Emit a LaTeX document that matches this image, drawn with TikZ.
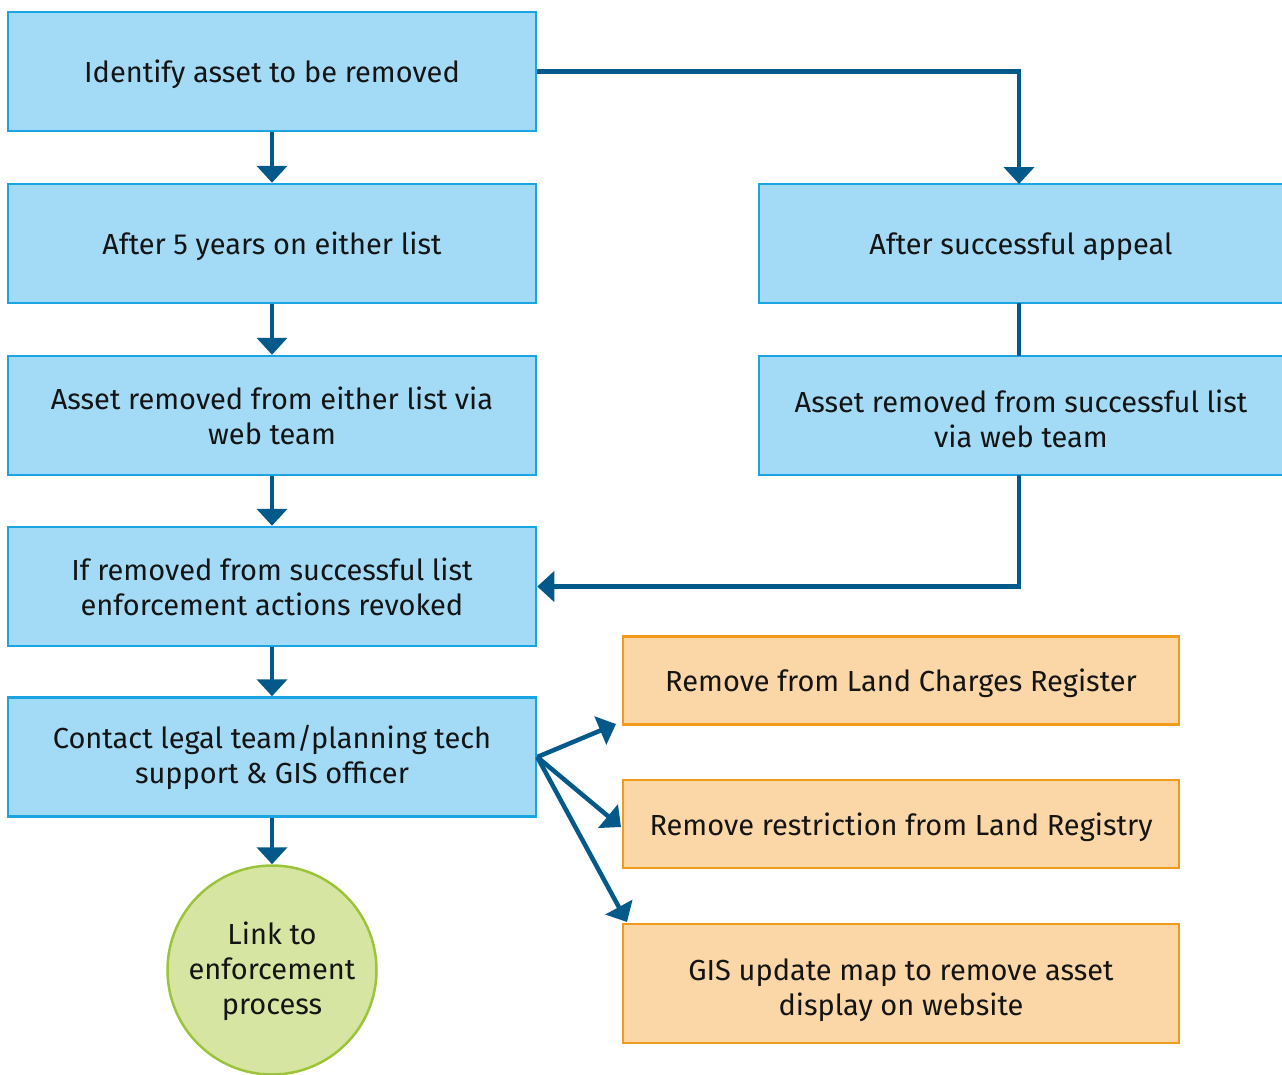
\documentclass[tikz,border=0pt]{standalone}
\usepackage{fontspec}
\setmainfont{Fira Sans}
\usetikzlibrary{arrows.meta}
\definecolor{boxfill}{HTML}{A3DAF6}
\definecolor{boxline}{HTML}{1BA4E2}
\definecolor{orfill}{HTML}{FBD6A6}
\definecolor{orline}{HTML}{F29A1C}
\definecolor{grfill}{HTML}{D6E6A2}
\definecolor{grline}{HTML}{9CC43A}
\definecolor{flow}{HTML}{02598A}
\definecolor{ink}{HTML}{141414}
\begin{document}
\begin{tikzpicture}[x=1pt,y=-1pt,
  every node/.style={font=\fontsize{29}{35}\selectfont, text=ink, align=center, inner sep=0pt},
  bluebox/.style={draw=boxline, fill=boxfill, line width=2.5pt, minimum width=528pt, minimum height=119pt},
  orbox/.style={draw=orline, fill=orfill, line width=2.5pt, minimum width=556pt},
  greenball/.style={circle, draw=grline, fill=grfill, line width=2.5pt, minimum size=209pt},
  oneline/.style={text depth=-1pt},
  conn/.style={draw=flow, line width=4.5pt},
  arr/.style={conn, -{Triangle[width=30pt,length=17pt]}}]
\useasboundingbox (0,0) rectangle (1282,1074);
\clip (0,0) rectangle (1282,1074);
% left column
\node[bluebox, oneline] (identify) at (272,71.5) {Identify asset to be removed};
\node[bluebox, oneline] (fiveyears) at (272,243.5) {After 5 years on either list};
\node[bluebox] (removed) at (272,415.5) {Asset removed from either list via\\web team};
\node[bluebox] (revoked) at (272,586.5) {If removed from successful list\\enforcement actions revoked};
\node[bluebox] (contact) at (272,757) {Contact legal team/planning tech\\support \& GIS officer};
\node[greenball, text depth=3pt] (link) at (272,970) {Link to\\enforcement\\process};
% right column
\node[bluebox, oneline] (appeal) at (1023,243.5) {\hspace*{-4pt}After successful appeal};
\node[bluebox, text height=63pt, text depth=0pt] (succremoved) at (1023,415.5) {\hspace*{-4pt}Asset removed from successful list\\\hspace*{-4pt}via web team};
% follow-up tasks
\node[orbox, oneline, minimum height=88pt] (charges) at (901,680.5) {Remove from Land Charges Register};
\node[orbox, oneline, minimum height=88pt] (registry) at (901,824) {Remove restriction from Land Registry};
\node[orbox, text height=70pt, text depth=7pt, minimum height=119pt] (gis) at (901,983.5) {GIS update map to remove asset\\display on website};
% connectors
\draw[arr] (identify.south) -- (fiveyears.north);
\draw[arr] (fiveyears.south) -- (removed.north);
\draw[arr] (removed.south) -- (revoked.north);
\draw[arr] (revoked.south) -- (contact.north);
\draw[arr] (contact.south) -- (link.north);
\draw[arr] (identify.east) -- (1019,71.5) -- (1019,184);
\draw[conn] (1019,303) -- (1019,356);
\draw[arr] (1019,475) -- (1019,586.5) -- (revoked.east);
\coordinate (fan) at (contact.east);
\coordinate (tipA) at (616,724);
\coordinate (tipB) at (621,827);
\coordinate (tipC) at (627,922);
\draw[arr] (fan) -- (tipA);
\draw[arr] (fan) -- (tipB);
\draw[arr] (fan) -- (tipC);
\end{tikzpicture}
\end{document}
